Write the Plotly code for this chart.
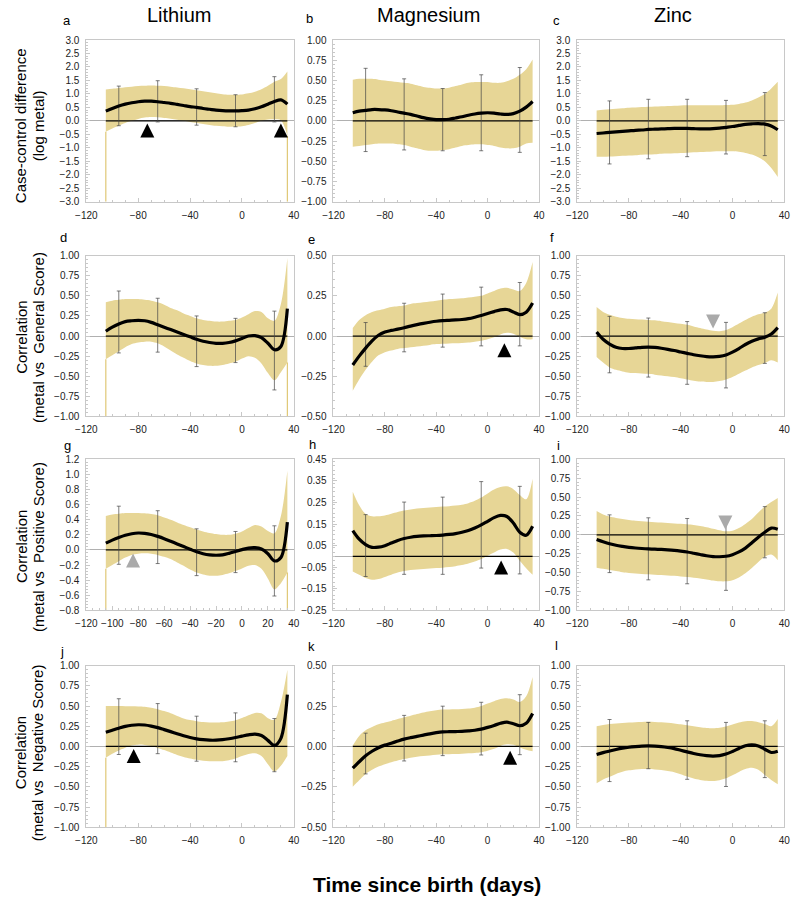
import plotly.graph_objects as go

# ---------------- data ----------------
days = list(range(-105, 40, 5))          # 29 sample days, -105 .. 35
bar_days = [-95, -65, -35, -5, 25]

# a: Lithium, case-control difference
a_curve = [0.36,0.46,0.55,0.62,0.67,0.71,0.73,0.73,0.71,0.68,0.65,0.61,0.57,0.53,0.50,0.46,0.43,0.40,0.38,0.37,0.37,0.38,0.40,0.45,0.52,0.62,0.72,0.78,0.62]
a_upper = [1.16,1.19,1.22,1.25,1.27,1.29,1.30,1.31,1.30,1.29,1.27,1.24,1.21,1.17,1.14,1.10,1.06,1.02,0.99,0.97,0.97,0.98,1.02,1.08,1.17,1.30,1.45,1.55,1.83]
a_lower = [-0.40,-0.28,-0.18,-0.08,0.00,0.07,0.12,0.14,0.13,0.11,0.08,0.04,0.00,-0.04,-0.08,-0.12,-0.15,-0.18,-0.20,-0.22,-0.22,-0.20,-0.15,-0.08,0.00,0.05,0.06,0.02,-0.55]
a_bar_lo = [-0.18,-0.04,-0.16,-0.22,-0.04]
a_bar_hi = [1.29,1.49,1.19,0.97,1.64]

# b: Magnesium, case-control difference
b_curve = [0.10,0.12,0.13,0.14,0.14,0.135,0.125,0.11,0.095,0.08,0.06,0.04,0.025,0.015,0.015,0.02,0.035,0.05,0.07,0.085,0.095,0.10,0.095,0.085,0.08,0.09,0.12,0.17,0.24]
b_upper = [0.51,0.52,0.52,0.52,0.51,0.50,0.49,0.48,0.47,0.46,0.44,0.42,0.41,0.40,0.40,0.41,0.43,0.45,0.47,0.48,0.48,0.48,0.47,0.47,0.49,0.52,0.57,0.64,0.76]
b_lower = [-0.32,-0.31,-0.30,-0.29,-0.28,-0.28,-0.28,-0.29,-0.30,-0.32,-0.34,-0.36,-0.37,-0.37,-0.36,-0.35,-0.33,-0.31,-0.30,-0.29,-0.29,-0.30,-0.31,-0.33,-0.34,-0.34,-0.32,-0.28,-0.27]
b_bar_lo = [-0.38,-0.36,-0.37,-0.37,-0.39]
b_bar_hi = [0.65,0.52,0.40,0.57,0.66]

# c: Zinc, case-control difference
c_curve = [-0.47,-0.45,-0.43,-0.41,-0.39,-0.37,-0.35,-0.34,-0.32,-0.31,-0.30,-0.29,-0.28,-0.28,-0.28,-0.29,-0.30,-0.30,-0.29,-0.27,-0.24,-0.21,-0.17,-0.13,-0.11,-0.10,-0.12,-0.19,-0.33]
c_upper = [0.38,0.41,0.43,0.45,0.47,0.49,0.50,0.51,0.52,0.53,0.54,0.55,0.56,0.57,0.58,0.58,0.58,0.58,0.58,0.58,0.59,0.60,0.63,0.68,0.76,0.87,1.00,1.20,1.45]
c_lower = [-1.33,-1.33,-1.32,-1.31,-1.30,-1.29,-1.28,-1.26,-1.25,-1.24,-1.22,-1.21,-1.20,-1.19,-1.18,-1.17,-1.16,-1.15,-1.14,-1.13,-1.13,-1.13,-1.15,-1.19,-1.25,-1.35,-1.50,-1.75,-2.08]
c_bar_lo = [-1.60,-1.41,-1.33,-1.23,-1.29]
c_bar_hi = [0.74,0.80,0.80,0.76,1.05]

# d: Lithium vs General Score
d_curve = [0.06,0.11,0.15,0.18,0.19,0.195,0.19,0.17,0.14,0.11,0.08,0.05,0.02,-0.01,-0.04,-0.065,-0.08,-0.09,-0.09,-0.08,-0.06,-0.03,0.00,0.005,-0.02,-0.09,-0.17,-0.13,0.34]
d_upper = [0.42,0.44,0.45,0.46,0.46,0.46,0.45,0.44,0.42,0.39,0.35,0.32,0.28,0.25,0.22,0.20,0.19,0.18,0.18,0.19,0.20,0.23,0.27,0.31,0.30,0.22,0.19,0.40,0.97]
d_lower = [-0.29,-0.24,-0.19,-0.14,-0.10,-0.08,-0.07,-0.07,-0.09,-0.13,-0.18,-0.23,-0.27,-0.31,-0.34,-0.36,-0.37,-0.37,-0.36,-0.34,-0.32,-0.28,-0.25,-0.27,-0.34,-0.46,-0.55,-0.45,-0.33]
d_bar_lo = [-0.21,-0.20,-0.38,-0.33,-0.67]
d_bar_hi = [0.56,0.47,0.25,0.22,0.31]

# e: Magnesium vs General Score
e_curve = [-0.18,-0.125,-0.075,-0.03,0.005,0.025,0.035,0.043,0.052,0.062,0.071,0.079,0.086,0.092,0.096,0.098,0.100,0.103,0.108,0.117,0.128,0.140,0.152,0.163,0.165,0.150,0.133,0.148,0.205]
e_upper = [0.05,0.10,0.13,0.15,0.16,0.17,0.18,0.185,0.19,0.20,0.205,0.21,0.215,0.22,0.225,0.23,0.232,0.235,0.24,0.245,0.25,0.265,0.28,0.295,0.30,0.29,0.28,0.33,0.46]
e_lower = [-0.34,-0.27,-0.21,-0.16,-0.12,-0.10,-0.09,-0.08,-0.075,-0.07,-0.065,-0.06,-0.055,-0.05,-0.048,-0.046,-0.045,-0.043,-0.04,-0.035,-0.03,-0.02,-0.008,0.01,0.02,0.015,-0.005,-0.02,-0.02]
e_bar_lo = [-0.188,-0.098,-0.069,-0.061,-0.061]
e_bar_hi = [0.084,0.204,0.261,0.304,0.333]

# f: Zinc vs General Score
f_curve = [0.05,-0.04,-0.10,-0.14,-0.155,-0.155,-0.148,-0.14,-0.137,-0.142,-0.152,-0.165,-0.18,-0.198,-0.215,-0.232,-0.245,-0.255,-0.258,-0.252,-0.235,-0.20,-0.155,-0.105,-0.065,-0.035,-0.015,0.025,0.105]
f_upper = [0.36,0.30,0.265,0.24,0.225,0.215,0.21,0.205,0.20,0.195,0.185,0.175,0.163,0.152,0.14,0.12,0.10,0.08,0.065,0.06,0.075,0.11,0.155,0.20,0.24,0.27,0.29,0.34,0.54]
f_lower = [-0.26,-0.33,-0.39,-0.42,-0.44,-0.455,-0.46,-0.465,-0.47,-0.48,-0.49,-0.50,-0.51,-0.525,-0.54,-0.555,-0.565,-0.57,-0.57,-0.56,-0.54,-0.51,-0.47,-0.43,-0.39,-0.36,-0.335,-0.30,-0.33]
f_bar_lo = [-0.457,-0.51,-0.60,-0.645,-0.34]
f_bar_hi = [0.245,0.224,0.18,0.17,0.29]

# g: Lithium vs Positive Score
g_curve = [0.09,0.13,0.165,0.195,0.215,0.225,0.22,0.205,0.18,0.15,0.115,0.08,0.045,0.01,-0.025,-0.05,-0.065,-0.07,-0.065,-0.045,-0.02,0.005,0.025,0.03,0.012,-0.05,-0.145,-0.10,0.37]
g_upper = [0.45,0.47,0.48,0.49,0.49,0.49,0.485,0.475,0.46,0.43,0.40,0.365,0.33,0.30,0.27,0.245,0.225,0.21,0.20,0.20,0.215,0.245,0.29,0.33,0.31,0.25,0.22,0.45,1.05]
g_lower = [-0.25,-0.20,-0.15,-0.10,-0.065,-0.05,-0.045,-0.05,-0.065,-0.09,-0.12,-0.165,-0.21,-0.26,-0.30,-0.325,-0.34,-0.34,-0.33,-0.31,-0.28,-0.245,-0.21,-0.20,-0.25,-0.38,-0.52,-0.44,-0.30]
g_bar_lo = [-0.19,-0.18,-0.34,-0.30,-0.61]
g_bar_hi = [0.58,0.52,0.28,0.245,0.32]

# h: Magnesium vs Positive Score
h_curve = [0.12,0.08,0.055,0.042,0.043,0.05,0.062,0.074,0.083,0.089,0.093,0.095,0.096,0.097,0.099,0.102,0.106,0.112,0.12,0.132,0.146,0.163,0.18,0.19,0.185,0.155,0.112,0.098,0.14]
h_upper = [0.30,0.237,0.197,0.186,0.186,0.19,0.198,0.206,0.213,0.218,0.222,0.225,0.227,0.229,0.231,0.233,0.236,0.24,0.247,0.258,0.273,0.292,0.31,0.322,0.325,0.312,0.285,0.265,0.36]
h_lower = [-0.07,-0.085,-0.10,-0.108,-0.105,-0.095,-0.085,-0.075,-0.068,-0.063,-0.06,-0.058,-0.056,-0.054,-0.052,-0.049,-0.045,-0.04,-0.033,-0.024,-0.012,0.003,0.018,0.032,0.035,0.018,-0.02,-0.055,-0.085]
h_bar_lo = [-0.093,-0.083,-0.083,-0.054,-0.081]
h_bar_hi = [0.194,0.252,0.275,0.347,0.325]

# i: Zinc vs Positive Score
i_curve = [-0.06,-0.09,-0.117,-0.138,-0.153,-0.165,-0.174,-0.181,-0.186,-0.19,-0.193,-0.198,-0.205,-0.215,-0.227,-0.243,-0.26,-0.276,-0.287,-0.29,-0.283,-0.262,-0.226,-0.175,-0.105,-0.03,0.035,0.09,0.075]
i_upper = [0.315,0.27,0.243,0.225,0.21,0.198,0.188,0.18,0.174,0.168,0.163,0.157,0.152,0.146,0.14,0.13,0.118,0.102,0.082,0.062,0.048,0.055,0.09,0.145,0.21,0.295,0.375,0.435,0.49]
i_lower = [-0.435,-0.45,-0.465,-0.48,-0.495,-0.505,-0.512,-0.518,-0.523,-0.528,-0.533,-0.538,-0.543,-0.55,-0.558,-0.567,-0.577,-0.59,-0.605,-0.615,-0.615,-0.60,-0.565,-0.51,-0.44,-0.36,-0.29,-0.26,-0.335]
i_bar_lo = [-0.50,-0.596,-0.648,-0.735,-0.304]
i_bar_hi = [0.265,0.226,0.217,0.17,0.374]

# j: Lithium vs Negative Score
j_curve = [0.175,0.20,0.225,0.248,0.262,0.268,0.265,0.252,0.233,0.208,0.183,0.157,0.133,0.111,0.094,0.083,0.077,0.077,0.083,0.095,0.11,0.127,0.143,0.152,0.135,0.075,0.012,0.10,0.64]
j_upper = [0.50,0.50,0.50,0.498,0.496,0.494,0.49,0.478,0.46,0.437,0.41,0.377,0.347,0.326,0.313,0.303,0.297,0.295,0.298,0.308,0.325,0.352,0.386,0.415,0.41,0.35,0.33,0.55,0.95]
j_lower = [-0.14,-0.09,-0.05,-0.015,0.012,0.022,0.018,0.005,-0.018,-0.045,-0.075,-0.105,-0.13,-0.15,-0.165,-0.177,-0.183,-0.185,-0.182,-0.17,-0.15,-0.12,-0.095,-0.085,-0.12,-0.22,-0.31,-0.24,-0.12]
j_bar_lo = [-0.10,-0.09,-0.183,-0.19,-0.313]
j_bar_hi = [0.59,0.53,0.374,0.415,0.345]

# k: Magnesium vs Negative Score
k_curve = [-0.135,-0.095,-0.058,-0.03,-0.008,0.008,0.02,0.033,0.045,0.054,0.062,0.07,0.078,0.085,0.09,0.091,0.092,0.093,0.096,0.10,0.107,0.118,0.13,0.143,0.15,0.14,0.128,0.143,0.204]
k_upper = [0.005,0.065,0.10,0.12,0.137,0.148,0.158,0.169,0.18,0.19,0.20,0.21,0.218,0.224,0.228,0.229,0.23,0.232,0.235,0.24,0.25,0.265,0.28,0.293,0.298,0.29,0.275,0.31,0.43]
k_lower = [-0.25,-0.21,-0.17,-0.145,-0.125,-0.11,-0.098,-0.087,-0.078,-0.07,-0.064,-0.06,-0.056,-0.052,-0.049,-0.048,-0.047,-0.045,-0.043,-0.04,-0.036,-0.027,-0.015,0.003,0.013,0.01,-0.006,-0.02,-0.03]
k_bar_lo = [-0.17,-0.09,-0.057,-0.053,-0.051]
k_bar_hi = [0.082,0.192,0.249,0.273,0.32]

# l: Zinc vs Negative Score
l_curve = [-0.10,-0.077,-0.057,-0.038,-0.022,-0.01,-0.002,0.004,0.006,0.004,-0.002,-0.013,-0.028,-0.048,-0.068,-0.087,-0.103,-0.115,-0.12,-0.114,-0.095,-0.063,-0.025,0.008,0.02,0.005,-0.035,-0.075,-0.06]
l_upper = [0.25,0.265,0.277,0.285,0.291,0.296,0.30,0.303,0.304,0.302,0.298,0.292,0.284,0.273,0.262,0.25,0.238,0.229,0.225,0.23,0.245,0.27,0.295,0.312,0.315,0.30,0.277,0.25,0.34]
l_lower = [-0.455,-0.41,-0.375,-0.34,-0.313,-0.296,-0.285,-0.28,-0.28,-0.285,-0.293,-0.305,-0.32,-0.345,-0.373,-0.398,-0.415,-0.425,-0.427,-0.418,-0.395,-0.357,-0.315,-0.28,-0.265,-0.29,-0.354,-0.415,-0.467]
l_bar_lo = [-0.435,-0.276,-0.407,-0.496,-0.386]
l_bar_hi = [0.333,0.297,0.317,0.297,0.317]

# marker triangles (apex position)
a_tri_x, a_tri_y = [-73, 30], [-0.10, -0.10]
e_tri_x, e_tri_y = [13], [-0.045]
f_tri_x, f_tri_y = [-15], [0.094]
g_tri_x, g_tri_y = [-84], [-0.048]
h_tri_x, h_tri_y = [10.5], [-0.019]
i_tri_x, i_tri_y = [-5.5], [0.07]
j_tri_x, j_tri_y = [-83.5], [-0.033]
k_tri_x, k_tri_y = [17.5], [-0.027]

col_titles = ["Lithium", "Magnesium", "Zinc"]
row_titles = [("Case-control difference", "(log metal)"),
              ("Correlation", "(metal vs\u00a0 General Score)"),
              ("Correlation", "(metal vs\u00a0 Positive Score)"),
              ("Correlation", "(metal vs\u00a0 Negative Score)")]
x_title = "Time since birth (days)"

# ---------------- panel table ----------------
BLACK_UP = ("arrow-up", "black")
GREY_UP = ("arrow-up", "#aaaaaa")
GREY_DN = ("arrow-down", "#aaaaaa")

panels = [
    dict(k="a", c=a_curve, u=a_upper, l=a_lower, blo=a_bar_lo, bhi=a_bar_hi, yr=(-3, 3), dt=0.5, fmt=".1f", xdt=40, spikes=(0, -1), tri=(a_tri_x, a_tri_y, BLACK_UP)),
    dict(k="b", c=b_curve, u=b_upper, l=b_lower, blo=b_bar_lo, bhi=b_bar_hi, yr=(-1, 1), dt=0.25, fmt=".2f", xdt=40, spikes=(), tri=None),
    dict(k="c", c=c_curve, u=c_upper, l=c_lower, blo=c_bar_lo, bhi=c_bar_hi, yr=(-3, 3), dt=0.5, fmt=".1f", xdt=40, spikes=(), tri=None),
    dict(k="d", c=d_curve, u=d_upper, l=d_lower, blo=d_bar_lo, bhi=d_bar_hi, yr=(-1, 1), dt=0.25, fmt=".2f", xdt=40, spikes=(0, -1), tri=None),
    dict(k="e", c=e_curve, u=e_upper, l=e_lower, blo=e_bar_lo, bhi=e_bar_hi, yr=(-0.5, 0.5), dt=0.25, fmt=".2f", xdt=40, spikes=(), tri=(e_tri_x, e_tri_y, BLACK_UP)),
    dict(k="f", c=f_curve, u=f_upper, l=f_lower, blo=f_bar_lo, bhi=f_bar_hi, yr=(-1, 1), dt=0.25, fmt=".2f", xdt=40, spikes=(), tri=(f_tri_x, f_tri_y, GREY_DN)),
    dict(k="g", c=g_curve, u=g_upper, l=g_lower, blo=g_bar_lo, bhi=g_bar_hi, yr=(-0.8, 1.2), dt=0.2, fmt=".1f", xdt=20, spikes=(0, -1), tri=(g_tri_x, g_tri_y, GREY_UP)),
    dict(k="h", c=h_curve, u=h_upper, l=h_lower, blo=h_bar_lo, bhi=h_bar_hi, yr=(-0.25, 0.45), dt=0.1, fmt=".2f", xdt=40, spikes=(), tri=(h_tri_x, h_tri_y, BLACK_UP)),
    dict(k="i", c=i_curve, u=i_upper, l=i_lower, blo=i_bar_lo, bhi=i_bar_hi, yr=(-1, 1), dt=0.25, fmt=".2f", xdt=40, spikes=(), tri=(i_tri_x, i_tri_y, GREY_DN)),
    dict(k="j", c=j_curve, u=j_upper, l=j_lower, blo=j_bar_lo, bhi=j_bar_hi, yr=(-1, 1), dt=0.25, fmt=".2f", xdt=40, spikes=(0,), tri=(j_tri_x, j_tri_y, BLACK_UP)),
    dict(k="k", c=k_curve, u=k_upper, l=k_lower, blo=k_bar_lo, bhi=k_bar_hi, yr=(-0.5, 0.5), dt=0.25, fmt=".2f", xdt=40, spikes=(), tri=(k_tri_x, k_tri_y, BLACK_UP)),
    dict(k="l", c=l_curve, u=l_upper, l=l_lower, blo=l_bar_lo, bhi=l_bar_hi, yr=(-1, 1), dt=0.25, fmt=".2f", xdt=40, spikes=(), tri=None),
]

# ---------------- layout geometry ----------------
W, H = 800, 902
FONT = "Liberation Sans, Arial, Helvetica, sans-serif"
BAND = "rgb(231,214,150)"
SPIKE = "rgb(224,200,118)"
FRAME = "#c8c8c8"

col_px = [(77, 289), (329.5, 539.5), (578.5, 790)]
row_px = [(34.5, 198.3), (253, 416), (459.5, 612.5), (668.5, 832.3)]
letter_px = [(57, 15), (305, 13), (557, 15), (54, 235), (307, 237), (553, 235),
             (58, 445), (308, 444), (559, 445), (52, 654), (307, 649), (557, 648)]

fig = go.Figure()
layout = dict(width=W, height=H, margin=dict(l=0, r=0, t=0, b=0),
              paper_bgcolor="white", plot_bgcolor="white", showlegend=False,
              font=dict(family=FONT, color="#222"))
annotations = []

for n, p in enumerate(panels, 1):
    r, cidx = divmod(n - 1, 3)
    sfx = "" if n == 1 else str(n)
    xa, ya = "x" + sfx, "y" + sfx
    x0, x1 = col_px[cidx]
    t, b = row_px[r]
    ymin, ymax = p["yr"]

    # band
    fig.add_trace(go.Scatter(x=days, y=p["l"], mode="lines", xaxis=xa, yaxis=ya,
                             line=dict(width=0, color=BAND, shape="spline", smoothing=0.9),
                             hoverinfo="skip"))
    fig.add_trace(go.Scatter(x=days, y=p["u"], mode="lines", xaxis=xa, yaxis=ya,
                             line=dict(width=0, color=BAND, shape="spline", smoothing=0.9),
                             fill="tonexty", fillcolor=BAND, hoverinfo="skip"))
    # thin vertical spikes where band runs off the axis
    for idx in p["spikes"]:
        fig.add_trace(go.Scatter(x=[days[idx], days[idx]], y=[p["l"][idx], ymin], mode="lines",
                                 xaxis=xa, yaxis=ya, line=dict(width=1.2, color=SPIKE),
                                 hoverinfo="skip"))
    # black reference line at zero over data span
    fig.add_trace(go.Scatter(x=[days[0], days[-1]], y=[0, 0], mode="lines", xaxis=xa, yaxis=ya,
                             line=dict(width=1.2, color="black"), hoverinfo="skip"))
    # error bars
    mids = [(lo + hi) / 2 for lo, hi in zip(p["blo"], p["bhi"])]
    fig.add_trace(go.Scatter(x=bar_days, y=mids, mode="markers", xaxis=xa, yaxis=ya,
                             marker=dict(size=1, color="rgba(0,0,0,0)"),
                             error_y=dict(type="data", symmetric=False,
                                          array=[hi - m for hi, m in zip(p["bhi"], mids)],
                                          arrayminus=[m - lo for lo, m in zip(p["blo"], mids)],
                                          color="rgba(70,70,70,0.7)", thickness=1, width=2),
                             hoverinfo="skip"))
    # curve
    fig.add_trace(go.Scatter(x=days, y=p["c"], mode="lines", xaxis=xa, yaxis=ya,
                             line=dict(width=3.2, color="black", shape="spline", smoothing=0.9)))
    # triangles
    if p["tri"]:
        tx, ty, (sym, col) = p["tri"]
        fig.add_trace(go.Scatter(x=tx, y=ty, mode="markers", xaxis=xa, yaxis=ya,
                                 marker=dict(symbol=sym, size=14, color=col, line=dict(width=0))))

    layout["xaxis" + sfx] = dict(
        domain=[x0 / W, x1 / W], range=[-120, 40], anchor=ya,
        tickmode="linear", tick0=-120, dtick=p["xdt"], tickformat="d",
        showline=True, mirror=True, linecolor=FRAME, linewidth=1,
        ticks="inside", ticklen=4, tickcolor=FRAME, showgrid=False, zeroline=False,
        ticklabelstandoff=4,
        tickfont=dict(size=10, color="#222", family=FONT),
        minor=dict(ticks="inside", ticklen=2, dtick=p["xdt"] / 4, tickcolor=FRAME, showgrid=False))
    layout["yaxis" + sfx] = dict(
        domain=[1 - b / H, 1 - t / H], range=[ymin, ymax], anchor=xa,
        tickmode="linear", tick0=ymin, dtick=p["dt"], tickformat=p["fmt"],
        showline=True, mirror=True, linecolor=FRAME, linewidth=1,
        ticks="inside", ticklen=4, tickcolor=FRAME, showgrid=False,
        zeroline=True, zerolinecolor="#b0b0b0", zerolinewidth=1,
        ticklabelstandoff=4,
        tickfont=dict(size=10, color="#222", family=FONT),
        minor=dict(ticks="inside", ticklen=2, dtick=p["dt"] / 5, tickcolor=FRAME, showgrid=False))

    lx, ly = letter_px[n - 1]
    annotations.append(dict(text=p["k"], x=lx / W, y=1 - ly / H, xref="paper", yref="paper",
                            showarrow=False, xanchor="center", yanchor="middle",
                            font=dict(size=13, color="black", family=FONT)))

# column titles
for txt, cx in zip(col_titles, [172, 427, 676]):
    annotations.append(dict(text=txt, x=cx / W, y=1 - 9 / H, xref="paper", yref="paper",
                            showarrow=False, xanchor="center", yanchor="middle",
                            font=dict(size=20, color="black", family=FONT)))

# row titles (rotated, two lines)
for (l1, l2), cy in zip(row_titles, [121.5, 336, 548, 757]):
    for txt, cx in ((l1, 10.5), (l2, 28)):
        annotations.append(dict(text=txt, x=cx / W, y=1 - cy / H, xref="paper", yref="paper",
                                showarrow=False, xanchor="center", yanchor="middle", textangle=-90,
                                font=dict(size=15, color="black", family=FONT)))

annotations.append(dict(text="<b>" + x_title + "</b>", x=425 / W, y=1 - 890 / H, xref="paper",
                        yref="paper", showarrow=False, xanchor="center", yanchor="middle",
                        font=dict(size=21, color="black", family=FONT)))

layout["annotations"] = annotations
fig.update_layout(**layout)
fig.write_html("out.html", config={"displayModeBar": False},
               post_script="document.body.style.margin='0px';document.body.style.overflow='hidden';")
